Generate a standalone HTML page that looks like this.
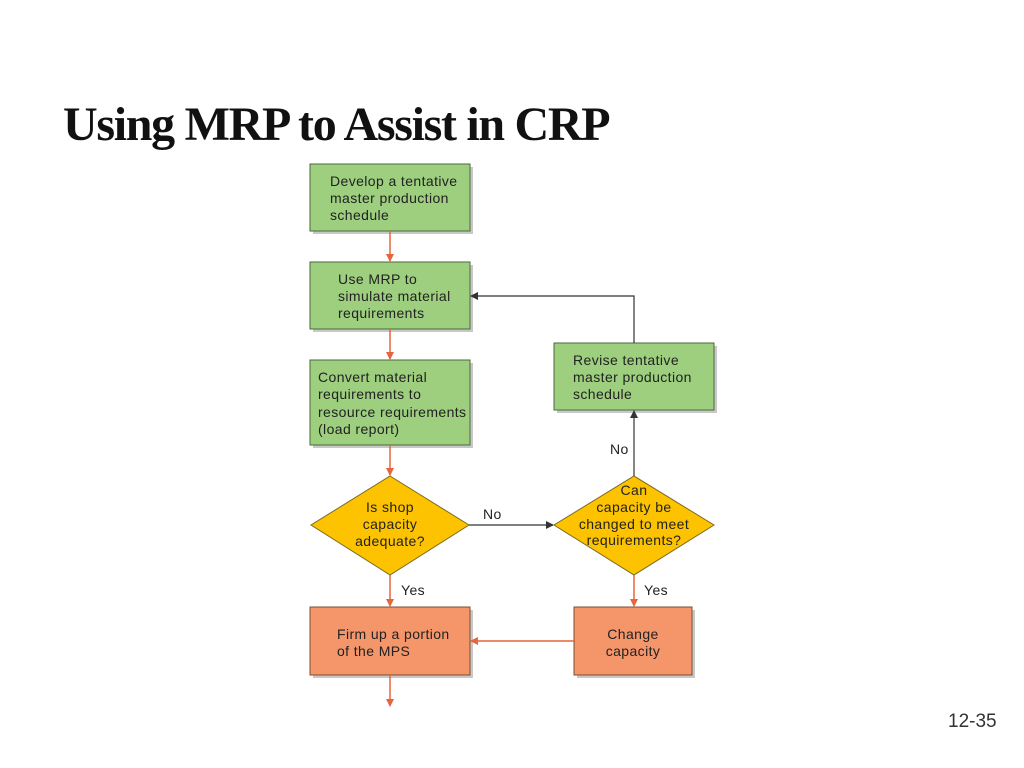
<!DOCTYPE html>
<html><head><meta charset="utf-8"><style>
html,body{margin:0;padding:0;background:#fff;}
svg{display:block}
text{font-family:"Liberation Sans",sans-serif;font-size:14px;letter-spacing:0.4px;fill:#222}
</style></head><body>
<svg width="1024" height="768" viewBox="0 0 1024 768" xmlns="http://www.w3.org/2000/svg">
<defs>
<marker id="ao" markerWidth="8" markerHeight="8" refX="7" refY="4" orient="auto" markerUnits="userSpaceOnUse"><path d="M0,0 L8,4 L0,8 z" fill="#e8643c"/></marker>
<marker id="ak" markerWidth="8" markerHeight="8" refX="7" refY="4" orient="auto" markerUnits="userSpaceOnUse"><path d="M0,0 L8,4 L0,8 z" fill="#333"/></marker>
</defs>
<text x="63" y="140" style="font-family:'Liberation Serif',serif;font-weight:bold;font-size:48px;letter-spacing:-1.3px;fill:#111">Using MRP to Assist in CRP</text>
<text x="948" y="727" style="font-size:19px;letter-spacing:0;fill:#333">12-35</text>

<g fill="#c8c8c8">
<rect x="313" y="167" width="160" height="67"/><rect x="313" y="265" width="160" height="67"/>
<rect x="313" y="363" width="160" height="85"/><rect x="557" y="346" width="160" height="67"/>
<rect x="313" y="610" width="160" height="68"/><rect x="577" y="610" width="118" height="68"/>
</g>
<g stroke="#4a6a3a" stroke-width="1" fill="#9dcf7f">
<rect x="310" y="164" width="160" height="67"/>
<rect x="310" y="262" width="160" height="67"/>
<rect x="310" y="360" width="160" height="85"/>
<rect x="554" y="343" width="160" height="67"/>
</g>
<g stroke="#7a5030" stroke-width="1" fill="#f4956a">
<rect x="310" y="607" width="160" height="68"/>
<rect x="574" y="607" width="118" height="68"/>
</g>
<g stroke="#7a6a20" stroke-width="1" fill="#fdc300">
<polygon points="390,476 469,525 390,575 311,525"/>
<polygon points="634,476 714,525 634,575 554,525"/>
</g>

<g stroke="#e8643c" stroke-width="1.5" fill="none">
<line x1="390" y1="231" x2="390" y2="261" marker-end="url(#ao)"/>
<line x1="390" y1="329" x2="390" y2="359" marker-end="url(#ao)"/>
<line x1="390" y1="445" x2="390" y2="475" marker-end="url(#ao)"/>
<line x1="390" y1="575" x2="390" y2="606" marker-end="url(#ao)"/>
<line x1="634" y1="575" x2="634" y2="606" marker-end="url(#ao)"/>
<line x1="574" y1="641" x2="471" y2="641" marker-end="url(#ao)"/>
<line x1="390" y1="675" x2="390" y2="706" marker-end="url(#ao)"/>
</g>
<g stroke="#333" stroke-width="1.2" fill="none">
<line x1="469" y1="525" x2="553" y2="525" marker-end="url(#ak)"/>
<line x1="634" y1="476" x2="634" y2="411" marker-end="url(#ak)"/>
<polyline points="634,343 634,296 471,296" marker-end="url(#ak)"/>
</g>

<text x="330" y="186">Develop a tentative</text>
<text x="330" y="203">master production</text>
<text x="330" y="220">schedule</text>
<text x="338" y="284">Use MRP to</text>
<text x="338" y="301">simulate material</text>
<text x="338" y="318">requirements</text>
<text x="318" y="382">Convert material</text>
<text x="318" y="399">requirements to</text>
<text x="318" y="417">resource requirements</text>
<text x="318" y="434">(load report)</text>
<text x="573" y="365">Revise tentative</text>
<text x="573" y="382">master production</text>
<text x="573" y="399">schedule</text>
<text x="390" y="512" text-anchor="middle">Is shop</text>
<text x="390" y="529" text-anchor="middle">capacity</text>
<text x="390" y="546" text-anchor="middle">adequate?</text>
<text x="634" y="495" text-anchor="middle">Can</text>
<text x="634" y="512" text-anchor="middle">capacity be</text>
<text x="634" y="529" text-anchor="middle">changed to meet</text>
<text x="634" y="545" text-anchor="middle">requirements?</text>
<text x="483" y="519">No</text>
<text x="610" y="454">No</text>
<text x="401" y="595">Yes</text>
<text x="644" y="595">Yes</text>
<text x="337" y="639">Firm up a portion</text>
<text x="337" y="656">of the MPS</text>
<text x="633" y="639" text-anchor="middle">Change</text>
<text x="633" y="656" text-anchor="middle">capacity</text>
</svg>
</body></html>
